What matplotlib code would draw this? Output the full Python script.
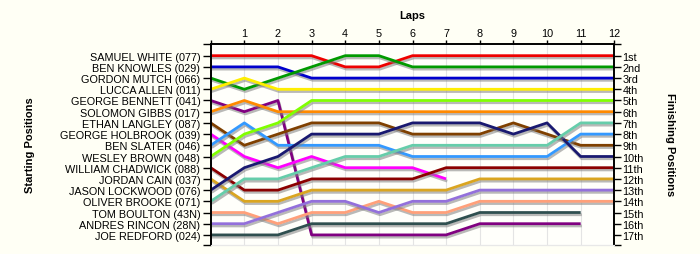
import numpy as np
import matplotlib.pyplot as plt
import matplotlib.patheffects as pe

# Pilotos en orden de salida
DRIVERS = [
    'SAMUEL WHITE (077)', 'BEN KNOWLES (029)', 'GORDON MUTCH (066)',
    'LUCCA ALLEN (011)', 'GEORGE BENNETT (041)', 'SOLOMON GIBBS (017)',
    'ETHAN LANGLEY (087)', 'GEORGE HOLBROOK (039)', 'BEN SLATER (046)',
    'WESLEY BROWN (048)', 'WILLIAM CHADWICK (088)', 'JORDAN CAIN (037)',
    'JASON LOCKWOOD (076)', 'OLIVER BROOKE (071)', 'TOM BOULTON (43N)',
    'ANDRES RINCON (28N)', 'JOE REDFORD (024)',
]

COLORS = [
    '#ee0000', '#0000cc', '#009a00', '#ffee00', '#800080', '#ff8a00',
    '#7f4000', '#ff00ff', '#3399ff', '#80ff00', '#8b0000', '#daa520',
    '#191970', '#66cdaa', '#ffa07a', '#9370db', '#2f4f4f',
]

# Posicion en cada vuelta (vuelta 0 = salida)
POSITIONS = [
    [1, 1, 1, 1, 2, 2, 1, 1, 1, 1, 1, 1, 1],
    [2, 2, 2, 3, 3, 3, 3, 3, 3, 3, 3, 3, 3],
    [3, 4, 3, 2, 1, 1, 2, 2, 2, 2, 2, 2, 2],
    [4, 3, 4, 4, 4, 4, 4, 4, 4, 4, 4, 4, 4],
    [5, 6, 5, 17, 17, 17, 17, 17, 16, 16, 16, 16],
    [6, 5, 6, 6, 6, 6, 6, 6, 6, 6, 6, 6, 6],
    [7, 9, 8, 7, 7, 7, 8, 8, 8, 7, 8, 9, 9],
    [8, 10, 11, 10, 11, 11, 11, 12],
    [9, 7, 9, 9, 9, 9, 10, 10, 10, 10, 10, 8, 8],
    [10, 8, 7, 5, 5, 5, 5, 5, 5, 5, 5, 5, 5],
    [11, 13, 13, 12, 12, 12, 12, 11, 11, 11, 11, 11, 11],
    [12, 14, 14, 13, 13, 13, 13, 13, 12, 12, 12, 12, 12],
    [13, 11, 10, 8, 8, 8, 7, 7, 7, 8, 7, 10, 10],
    [14, 12, 12, 11, 10, 10, 9, 9, 9, 9, 9, 7, 7],
    [15, 15, 16, 15, 15, 14, 15, 15, 14, 14, 14, 14, 14],
    [16, 16, 15, 14, 14, 15, 14, 14, 13, 13, 13, 13, 13],
    [17, 17, 17, 16, 16, 16, 16, 16, 15, 15, 15, 15],
]

FINISH_LABELS = ['1st', '2nd', '3rd'] + ['%dth' % i for i in range(4, 18)]
LAPS = list(range(1, 13))

BG = '#fffff5'
FONT = 'Liberation Sans'
FS = 7.8

fig = plt.figure(figsize=(7, 2.55), dpi=100, facecolor=BG)
ax = fig.add_axes([0.301, 0.0353, 0.5766, 0.7894])
ax.set_facecolor('#fffffb')

y_top, y_bot = -0.07, 17.9

for pos, color in zip(POSITIONS, COLORS):
    laps = np.arange(len(pos))
    ax.plot(laps, pos, color=color, lw=2.0, solid_capstyle='butt',
            path_effects=[pe.SimpleLineShadow(offset=(0.8, -1.6), shadow_color='#808080', alpha=0.55),
                          pe.Normal()])

ax.set_xlim(0, 12)
ax.set_ylim(y_bot, y_top)

ax.set_xticks(range(0, 13))
ax.set_xticklabels([''] + [str(l) for l in LAPS])
ax.xaxis.tick_top()
ax.tick_params(axis='x', direction='out', length=3, pad=1, labelsize=FS, width=1)
ax.grid(axis='x', color='#e4e4e4', lw=0.8)
ax.set_axisbelow(True)

ax.set_yticks([y_top] + list(range(1, 18)) + [y_bot])
ax.set_yticklabels([''] + DRIVERS + [''])
ax.tick_params(axis='y', direction='out', length=6, pad=1.5, labelsize=FS, width=1)

for lbl in ax.get_xticklabels() + ax.get_yticklabels():
    lbl.set_fontfamily(FONT)

ax2 = ax.twinx()
ax2.set_ylim(y_bot, y_top)
ax2.set_yticks([y_top] + list(range(1, 18)) + [y_bot])
ax2.set_yticklabels([''] + FINISH_LABELS + [''])
ax2.tick_params(axis='y', direction='out', length=5, pad=1, labelsize=FS, width=1)
for lbl in ax2.get_yticklabels():
    lbl.set_fontfamily(FONT)

for a in (ax, ax2):
    a.spines['bottom'].set_color('#e8e8e8')
    a.spines['bottom'].set_linewidth(0.8)
    for s in ('top', 'left', 'right'):
        a.spines[s].set_linewidth(1.2)

fig.text(412 / 700, 1 - 16 / 255, 'Laps', ha='center', va='center',
         fontsize=8, fontweight='bold', family=FONT)
fig.text(30 / 700, 1 - 145 / 255, 'Starting Positions', ha='center', va='center',
         rotation=90, fontsize=8, fontweight='bold', family=FONT)
fig.text(670 / 700, 1 - 145 / 255, 'Finishing Positions', ha='center', va='center',
         rotation=270, fontsize=8, fontweight='bold', family=FONT)

fig.savefig('out.png', dpi=100, facecolor=BG)
